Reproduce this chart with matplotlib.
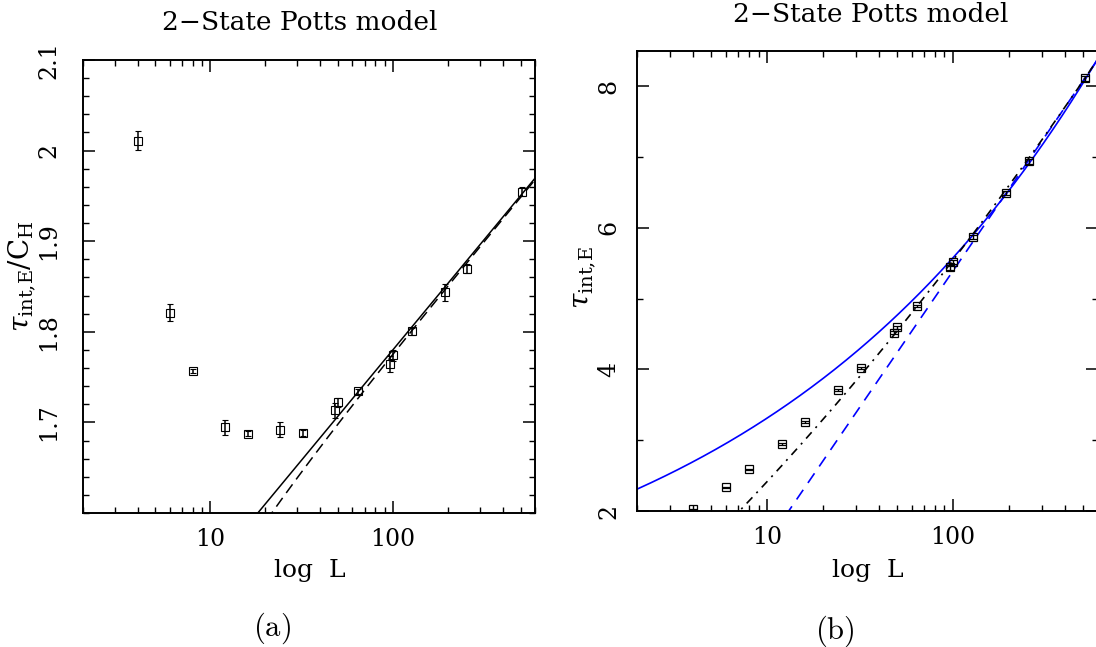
import numpy as np
import matplotlib
matplotlib.use('Agg')
import matplotlib.pyplot as plt
from matplotlib.ticker import NullFormatter

plt.rcParams['font.family'] = ['DejaVu Serif']
plt.rcParams['mathtext.fontset'] = 'dejavuserif'

# ---------------- data ----------------
L = [4, 6, 8, 12, 16, 24, 32, 48, 50, 64, 96, 100, 128, 192, 256, 512]
ratio = [2.0107, 1.8213, 1.757, 1.6945, 1.6875, 1.692, 1.6882, 1.7132,
         1.7224, 1.7342, 1.7647, 1.774, 1.8004, 1.8434, 1.8695, 1.9548]
ratio_err = [0.0105, 0.009, 0.002, 0.008, 0.003, 0.008, 0.003, 0.0085,
             0.005, 0.003, 0.009, 0.006, 0.004, 0.009, 0.005, 0.005]
tau = [2.024, 2.334, 2.588, 2.946, 3.252, 3.708, 4.014, 4.518,
       4.593, 4.894, 5.44, 5.515, 5.873, 6.494, 6.936, 8.108]
tau_err = [0.01, 0.01, 0.01, 0.015, 0.015, 0.015, 0.015, 0.02,
           0.02, 0.02, 0.03, 0.03, 0.03, 0.03, 0.03, 0.04]

# fit parameters
fitA_lin = (1.2933, 0.2434)            # a + b log10 L
fitA_corr = (1.2922, 0.2434, 0.380)    # a + b log10 L - c / L
fitB_pow = (1.9075, 0.23, 0.073)       # A L^z + B
fitB_lin = (-2.279, 3.834)             # a + b log10 L
fitB_quad = (-0.128, 2.254, 0.290)     # p + q u + r u^2

x_ticks = [10, 100]
x_minor = [2, 3, 4, 5, 6, 7, 8, 9, 20, 30, 40, 50, 60, 70, 80, 90,
           200, 300, 400, 500, 600]
yA_ticks = [1.7, 1.8, 1.9, 2.0, 2.1]
yA_labels = ['1.7', '1.8', '1.9', '2', '2.1']
yB_ticks = [2, 4, 6, 8]
yB_minor = [3, 5, 7]

W, H = 1096, 647
fig = plt.figure(figsize=(W / 100, H / 100), dpi=100)

def px_axes(x0, y0, x1, y1):
    return fig.add_axes([x0 / W, 1 - y1 / H, (x1 - x0) / W, (y1 - y0) / H])

axA = px_axes(82.7, 60, 535, 513)
axB = px_axes(637.3, 50.7, 1097.5, 511)

Lgrid = np.logspace(np.log10(2), np.log10(600), 400)
u = np.log10(Lgrid)

def style(ax, ypad):
    ax.set_xscale('log')
    ax.set_xlim(2, 600)
    ax.set_xticks(x_ticks)
    ax.set_xticklabels([str(t) for t in x_ticks])
    ax.set_xticks(x_minor, minor=True)
    ax.xaxis.set_minor_formatter(NullFormatter())
    ax.tick_params(which='both', direction='in', top=True, right=True,
                   labelsize=17)
    ax.tick_params(which='major', length=8.6, width=1.1)
    ax.tick_params(which='minor', length=4.6, width=1.0)
    ax.tick_params(axis='x', pad=11)
    ax.tick_params(axis='y', pad=ypad, labelrotation=90)
    for lab in ax.get_yticklabels():
        lab.set_va('center')
    for s in ax.spines.values():
        s.set_linewidth(1.4)

# ---------------- panel (a) ----------------
axA.errorbar(L, ratio, yerr=ratio_err, fmt='s', mfc='none', mec='black',
             mew=0.8, ms=6.3, ecolor='black', elinewidth=1.1, capsize=2.4,
             capthick=1.1, zorder=3)
axA.plot(Lgrid, fitA_lin[0] + fitA_lin[1] * u, color='black', lw=1.1)
axA.plot(Lgrid, fitA_corr[0] + fitA_corr[1] * u - fitA_corr[2] / Lgrid,
         color='black', lw=1.1, dashes=(7, 4))
axA.set_ylim(1.6, 2.1)
axA.set_yticks(yA_ticks)
axA.set_yticklabels(yA_labels)
axA.set_yticks(np.arange(1.6, 2.1001, 0.02), minor=True)
style(axA, 16)
axA.set_ylabel(r'$\tau_{\rm int{,}E}/{\rm C}_{\rm H}$', fontsize=20)
axA.yaxis.set_label_coords((38 - 82.7) / 452.3, 0.523)

# ---------------- panel (b) ----------------
axB.errorbar(L, tau, yerr=tau_err, fmt='s', mfc='none', mec='black',
             mew=0.9, ms=5.6, ecolor='black', elinewidth=1.0, capsize=2.6,
             capthick=1.0, zorder=3)
axB.plot(Lgrid, fitB_pow[0] * Lgrid ** fitB_pow[1] + fitB_pow[2],
         color='#0000ff', lw=1.2)
axB.plot(Lgrid, fitB_lin[0] + fitB_lin[1] * u, color='#0000ff', lw=1.2,
         dashes=(7, 5))
axB.plot(Lgrid, fitB_quad[0] + fitB_quad[1] * u + fitB_quad[2] * u ** 2,
         color='black', lw=1.2, dashes=(5, 3.5, 1.2, 3.5))
axB.set_ylim(2, 8.5)
axB.set_yticks(yB_ticks)
axB.set_yticklabels([str(t) for t in yB_ticks])
axB.set_yticks(yB_minor, minor=True)
style(axB, 12)
axB.set_ylabel(r'$\tau_{\rm int{,}E}$', fontsize=20)
axB.yaxis.set_label_coords((598 - 637.3) / 459.7, 0.506)

# ---------------- texts ----------------
fig.text(300 / W, 1 - 22 / H, '2\u2212State Potts model', fontsize=19,
         ha='center', va='center')
fig.text(871 / W, 1 - 14 / H, '2\u2212State Potts model', fontsize=19,
         ha='center', va='center')
fig.text(309.5 / W, 1 - 571 / H, 'log  L', fontsize=18, ha='center',
         va='center')
fig.text(868 / W, 1 - 571 / H, 'log  L', fontsize=18, ha='center',
         va='center')
fig.text(272 / W, 1 - 628 / H, r'$\mathrm{(a)}$', fontsize=22, ha='center',
         va='center', math_fontfamily='cm')
fig.text(835 / W, 1 - 631 / H, r'$\mathrm{(b)}$', fontsize=22, ha='center',
         va='center', math_fontfamily='cm')

fig.savefig('out.png', dpi=100)
